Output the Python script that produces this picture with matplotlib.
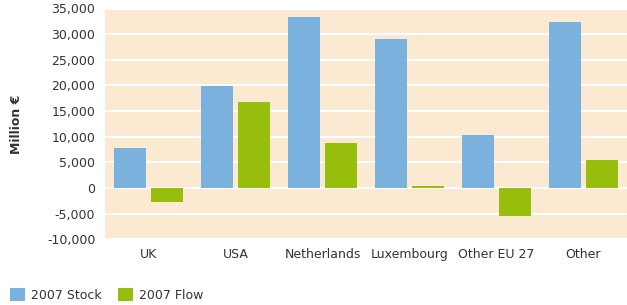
import numpy as np
import matplotlib.pyplot as plt
from matplotlib.ticker import FuncFormatter

countries = ['UK', 'USA', 'Netherlands', 'Luxembourg', 'Other EU 27', 'Other']
stock_2007 = [7800, 19900, 33300, 29000, 10300, 32400]
flow_2007 = [-2700, 16700, 8800, 300, -5400, 5450]

blue = '#7AB1DD'
green = '#97BD0D'
text_col = '#333333'

plt.rcParams['font.family'] = ['DejaVu Sans']

fig = plt.figure(figsize=(6.27, 3.05), dpi=100)
ax = fig.add_axes([105 / 627, 1 - 239.3 / 305, 522 / 627, (239.3 - 8.5) / 305])
ax.set_facecolor('#FCE9D2')

x = np.arange(len(countries))
w = 0.368
gap = 0.046
ax.bar(x - (w + gap) / 2, stock_2007, w, color=blue, label='2007 Stock', zorder=3)
ax.bar(x + (w + gap) / 2, flow_2007, w, color=green, label='2007 Flow', zorder=3)

ax.set_xlim(-0.5, len(countries) - 0.5)
ax.set_ylim(-10000, 35000)
ax.set_yticks(np.arange(-10000, 35001, 5000))
ax.yaxis.set_major_formatter(FuncFormatter(lambda v, p: f'{int(v):,}'))
ax.set_xticks(x)
ax.set_xticklabels(countries)
ax.tick_params(length=0, labelsize=9, colors=text_col)
ax.tick_params(axis='y', pad=7)
ax.tick_params(axis='x', pad=6)
ax.grid(axis='y', color='white', linewidth=1.5, zorder=1)
for s in ax.spines.values():
    s.set_visible(False)

ax.set_ylabel('Million €', fontsize=9, fontweight='bold', color=text_col, labelpad=17)

leg = fig.legend(loc='lower left', bbox_to_anchor=(10 / 627, 3 / 305), ncol=2, frameon=False,
                 fontsize=9, handlelength=1.2, handleheight=1.2, handletextpad=0.5,
                 columnspacing=1.3, labelcolor=text_col, borderpad=0, borderaxespad=0)

fig.savefig('out.png', dpi=100)
